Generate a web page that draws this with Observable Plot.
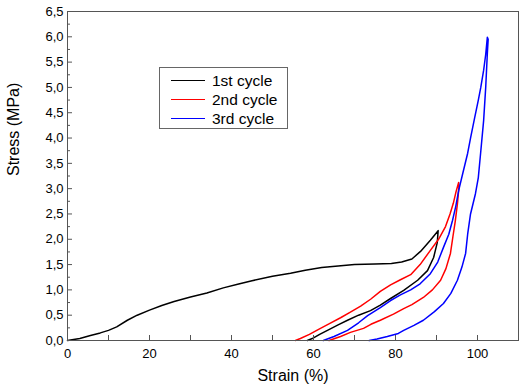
<!DOCTYPE html>
<html>
<head>
<meta charset="utf-8">
<script src="https://cdn.jsdelivr.net/npm/d3@7"></script>
<script src="https://cdn.jsdelivr.net/npm/@observablehq/plot@0.6"></script>
<style>
  body { margin: 0; background: white; }
  #wrap { position: relative; width: 519px; height: 389px; font-family: Arial, "Liberation Sans", sans-serif; }
  #legend { position: absolute; left: 159px; top: 67px; width: 127px; height: 60px; border: 1px solid #666; background: white; }
  .row { position: absolute; left: 0; height: 19px; display: flex; align-items: center; font-size: 15.5px; color: #000; }
  .sw { width: 34px; height: 0; margin-left: 11px; margin-right: 7px; border-top: 1.5px solid; }
</style>
</head>
<body>
<div id="wrap"></div>
<script>
const seriesNames = ["1st cycle", "2nd cycle", "3rd cycle"];
const seriesColors = ["#000000", "#ff0000", "#0000ff"];

// 1st cycle: loading then unloading
const strain1 = [0,3,5.6,8,10,12,14.6,17,20,23,26,30,34,38,41.5,45,50,54.4,58,62,66,70,75,79,81.5,84,86.1,88.5,90.4,
                 90.2,89.3,87.8,85.4,82,78.8,76.3,73.9,71,68.3,66,63.4,61.5,60,58.5];
const stress1 = [0,0.04,0.1,0.15,0.2,0.27,0.4,0.5,0.6,0.69,0.77,0.86,0.94,1.04,1.11,1.18,1.27,1.33,1.39,1.44,1.47,1.5,1.51,1.52,1.55,1.61,1.76,1.98,2.17,
                 1.94,1.64,1.38,1.19,0.99,0.83,0.7,0.59,0.5,0.4,0.31,0.2,0.12,0.05,0];

// 2nd cycle
const strain2 = [55.6,56.8,59,61.7,64,66.6,69,71.5,74,76.3,78.8,81.2,83.7,86,88.5,90.5,92.2,93.3,94.1,94.8,95.4,
                 95.5,95.1,94.6,94,93.4,92.3,91,89,86.8,84,82,79.5,76.3,74,72.2,69,66.6,64.5,63.8];
const stress2 = [0,0.04,0.12,0.24,0.34,0.45,0.56,0.68,0.82,0.97,1.1,1.2,1.3,1.5,1.78,2.0,2.25,2.5,2.71,2.95,3.12,
                 3.05,2.7,2.37,2.05,1.72,1.42,1.19,1.0,0.85,0.71,0.63,0.52,0.4,0.32,0.24,0.16,0.08,0.02,0];

// 3rd cycle
const strain3 = [62.4,65,68.3,71,73.2,76.3,78.8,81.2,83.7,86,88.5,90.3,91.7,93,93.9,94.7,95.4,96.4,97.6,98.3,99.3,100.2,100.8,101.5,102,102.4,
                 102.6,102.4,102,101.5,100.7,100.2,99.5,98.3,97.6,97.1,96.2,95.1,93.5,91.7,89.5,86.8,84.5,82,80.7,78,75.5,73.6];
const stress3 = [0,0.08,0.2,0.35,0.49,0.65,0.79,0.9,1.0,1.12,1.32,1.55,1.84,2.1,2.37,2.65,2.96,3.3,3.7,4.0,4.4,4.75,5.0,5.34,5.65,5.99,
                 5.95,5.67,5.0,4.35,3.65,3.22,2.9,2.5,2.1,1.72,1.45,1.19,0.93,0.73,0.57,0.4,0.3,0.2,0.14,0.08,0.03,0];

const xTicks = [0,10,20,30,40,50,60,70,80,90,100,110];
const xLabels = [0,20,40,60,80,100];
const yMajor = [0,0.5,1,1.5,2,2.5,3,3.5,4,4.5,5,5.5,6,6.5];
const yMinor = [0.25,0.75,1.25,1.75,2.25,2.75,3.25,3.75,4.25,4.75,5.25,5.75,6.25];

const rows = [];
[[strain1, stress1], [strain2, stress2], [strain3, stress3]].forEach(([xs, ys], i) => {
  xs.forEach((x, j) => rows.push({strain: x, stress: ys[j], cycle: seriesNames[i]}));
});

const fmt = d => d3.format(".1f")(d).replace(".", ",");
const axisColor = "#555";

const chart = Plot.plot({
  width: 519,
  height: 389,
  marginLeft: 67,
  marginRight: 1,
  marginTop: 11,
  marginBottom: 49,
  x: {domain: [0, 110]},
  y: {domain: [0, 6.5]},
  color: {domain: seriesNames, range: seriesColors},
  style: {fontFamily: 'Arial, "Liberation Sans", sans-serif', fontSize: "13px", color: "#000", background: "white", overflow: "visible"},
  marks: [
    Plot.line(rows, {x: "strain", y: "stress", z: "cycle", stroke: "cycle", strokeWidth: 1.5, curve: "linear"}),
    Plot.frame({stroke: axisColor}),
    Plot.axisX({ticks: xTicks, tickSize: 5, dy: -5, fill: "none", stroke: axisColor, label: null}),
    Plot.axisX({ticks: xLabels, tickSize: 0, tickPadding: 8, tickFormat: d => String(d), label: null, fill: "#000"}),
    Plot.axisY({ticks: yMajor, tickSize: 5, dx: 5, fill: "none", stroke: axisColor, label: null}),
    Plot.axisY({ticks: yMinor, tickSize: 3, dx: 3, fill: "none", stroke: axisColor, label: null}),
    Plot.axisY({ticks: yMajor, tickSize: 0, tickPadding: 4, tickFormat: fmt, label: null, fill: "#000"}),
    Plot.text(["Strain (%)"], {text: d => d, frameAnchor: "bottom", dy: 40, fontSize: 16, fill: "#000"}),
    Plot.text(["Stress (MPa)"], {text: d => d, frameAnchor: "left", dx: -54, rotate: -90, fontSize: 16, fill: "#000"})
  ]
});

const wrap = document.getElementById("wrap");
wrap.appendChild(chart);

const legend = document.createElement("div");
legend.id = "legend";
seriesNames.forEach((name, i) => {
  const row = document.createElement("div");
  row.className = "row";
  row.style.top = (3 + i * 19) + "px";
  const sw = document.createElement("span");
  sw.className = "sw";
  sw.style.borderTopColor = seriesColors[i];
  const label = document.createElement("span");
  label.textContent = name;
  row.appendChild(sw);
  row.appendChild(label);
  legend.appendChild(row);
});
wrap.appendChild(legend);
</script>
</body>
</html>
